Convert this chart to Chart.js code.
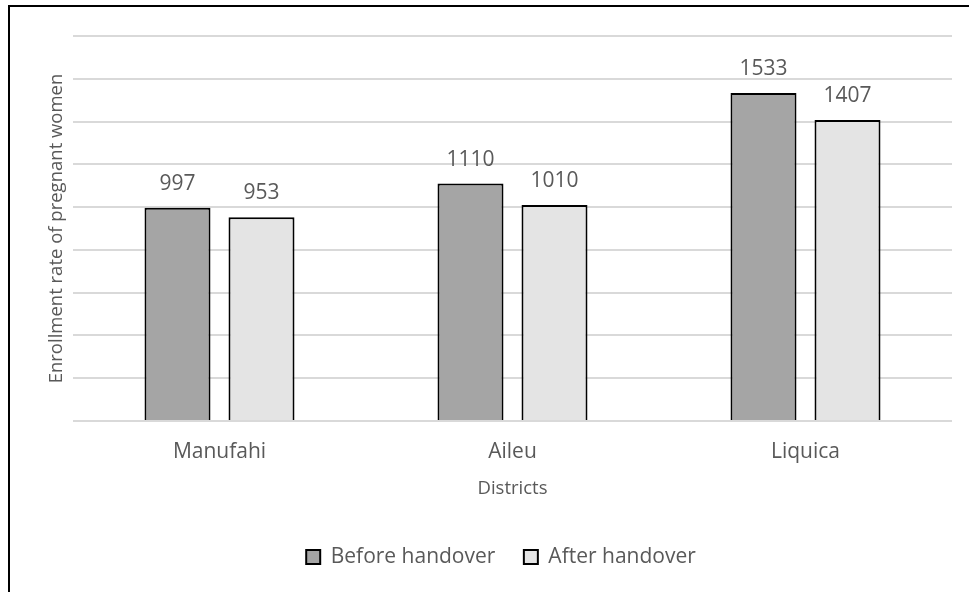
<!DOCTYPE html>
<html>
<head>
<meta charset="utf-8">
<script src="https://cdn.jsdelivr.net/npm/chart.js@4.4.0/dist/chart.umd.min.js"></script>
<style>
  html, body { margin: 0; padding: 0; background: #fff; overflow: hidden; }
  #frame {
    position: absolute; left: 8px; top: 5px; width: 1200px; height: 800px;
    border-top: 2px solid #000; border-left: 2px solid #000;
  }
  #c { position: absolute; left: 0; top: 0; }
</style>
</head>
<body>
<div id="frame"></div>
<canvas id="c" width="969" height="592"></canvas>
<script>
// Enrollment of pregnant women per district, before and after handover
const districts = ['Manufahi', 'Aileu', 'Liquica'];
const beforeHandover = [997, 1110, 1533];
const afterHandover = [953, 1010, 1407];
const seriesNames = ['Before handover', 'After handover'];
const yAxisTitle = 'Enrollment rate of pregnant women';
const xAxisTitle = 'Districts';
const yMin = 0, yMax = 1800, yStep = 200;

const FONT = "'Open Sans', 'DejaVu Sans', sans-serif";
const TEXT = '#595959';

// Writes each bar's value just above it
const valueLabels = {
  id: 'valueLabels',
  afterDatasetsDraw(chart) {
    const ctx = chart.ctx;
    ctx.save();
    ctx.font = `21px ${FONT}`;
    ctx.fillStyle = TEXT;
    ctx.textAlign = 'center';
    ctx.textBaseline = 'alphabetic';
    chart.data.datasets.forEach((ds, i) => {
      chart.getDatasetMeta(i).data.forEach((bar, j) => {
        ctx.fillText(String(ds.data[j]), bar.x, bar.y - 18);
      });
    });
    ctx.restore();
  }
};

// Moves the legend row a little to the right of the canvas centre
const legendOffset = {
  id: 'legendOffset',
  afterLayout(chart) {
    const lg = chart.legend;
    if (lg) { lg.left += 25; lg.right += 25; }
  }
};

new Chart(document.getElementById('c'), {
  type: 'bar',
  data: {
    labels: districts,
    datasets: [
      {
        label: seriesNames[0],
        data: beforeHandover,
        backgroundColor: '#a5a5a5',
        borderColor: '#000',
        borderWidth: 2,
        categoryPercentage: 0.5734,
        barPercentage: 0.7857
      },
      {
        label: seriesNames[1],
        data: afterHandover,
        backgroundColor: '#e4e4e4',
        borderColor: '#000',
        borderWidth: 2,
        categoryPercentage: 0.5734,
        barPercentage: 0.7857
      }
    ]
  },
  options: {
    responsive: false,
    animation: false,
    devicePixelRatio: 1,
    layout: { padding: { top: 36, left: 0, right: 17, bottom: 14.5 } },
    plugins: {
      tooltip: { enabled: false },
      legend: {
        position: 'bottom',
        labels: {
          font: { family: FONT, size: 21 },
          color: TEXT,
          boxWidth: 14,
          boxHeight: 14,
          padding: 28.5
        }
      }
    },
    scales: {
      x: {
        grid: { display: false, drawTicks: false },
        border: { display: false },
        ticks: { font: { family: FONT, size: 21 }, color: TEXT, padding: 18 },
        title: {
          display: true, text: xAxisTitle, color: TEXT,
          font: { family: FONT, size: 18.5 },
          padding: { top: 0, bottom: 18 }
        },
        afterFit(scale) { scale.height = 97; }
      },
      y: {
        min: yMin, max: yMax,
        ticks: { display: false, stepSize: yStep },
        grid: { color: '#d9d9d9', lineWidth: 2, drawTicks: false },
        border: { display: false },
        title: {
          display: true, text: yAxisTitle, color: TEXT,
          font: { family: FONT, size: 18.5 },
          padding: { top: 46, bottom: 0 }
        },
        afterFit(scale) { scale.width = 73; }
      }
    }
  },
  plugins: [valueLabels, legendOffset]
});
</script>
</body>
</html>
